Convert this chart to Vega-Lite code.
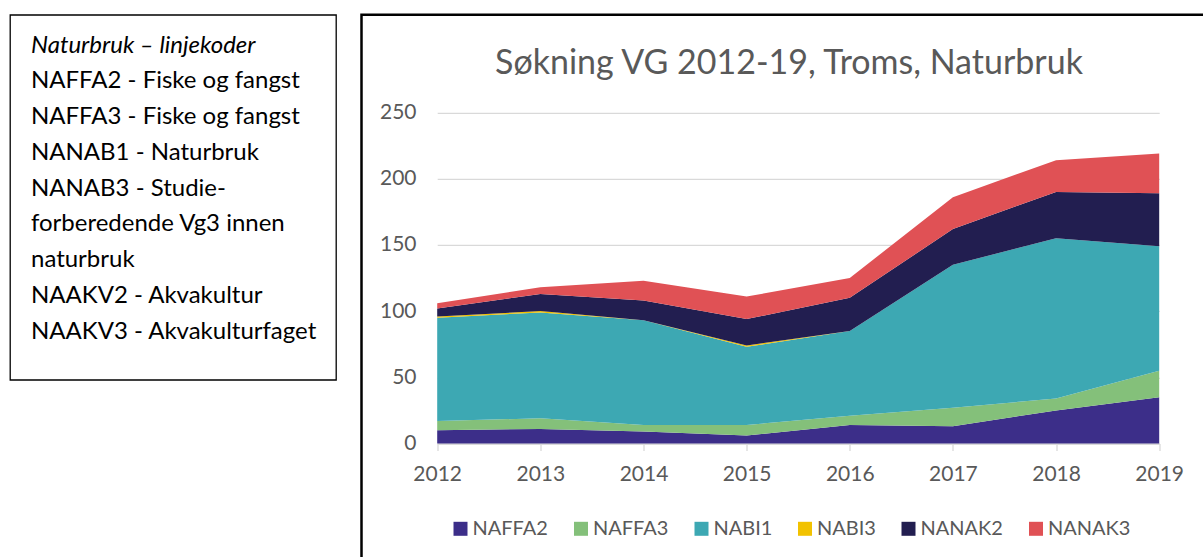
{
  "$schema": "https://vega.github.io/schema/vega-lite/v6.json",
  "padding": {"left": 9, "top": 12.8, "right": 0, "bottom": 0},
  "spacing": 22.5,
  "background": "white",
  "config": {
    "font": "Lato",
    "view": {"stroke": "#000"}
  },
  "resolve": {"scale": {"color": "independent"}, "legend": {"color": "independent"}},
  "datasets": {
    "notes": [
      {"line": 0, "text": "Naturbruk – linjekoder"},
      {"line": 1, "text": "NAFFA2 - Fiske og fangst"},
      {"line": 2, "text": "NAFFA3 - Fiske og fangst"},
      {"line": 3, "text": "NANAB1 - Naturbruk"},
      {"line": 4, "text": "NANAB3 - Studie-"},
      {"line": 5, "text": "forberedende Vg3 innen"},
      {"line": 6, "text": "naturbruk"},
      {"line": 7, "text": "NAAKV2 - Akvakultur"},
      {"line": 8, "text": "NAAKV3 - Akvakulturfaget"}
    ],
    "series": [
      {"year": 2012, "code": "NAFFA2", "k": 1, "value": 10},
      {"year": 2012, "code": "NAFFA3", "k": 2, "value": 7},
      {"year": 2012, "code": "NABI1", "k": 3, "value": 78},
      {"year": 2012, "code": "NABI3", "k": 4, "value": 1},
      {"year": 2012, "code": "NANAK2", "k": 5, "value": 6},
      {"year": 2012, "code": "NANAK3", "k": 6, "value": 4},
      {"year": 2013, "code": "NAFFA2", "k": 1, "value": 11},
      {"year": 2013, "code": "NAFFA3", "k": 2, "value": 8},
      {"year": 2013, "code": "NABI1", "k": 3, "value": 80},
      {"year": 2013, "code": "NABI3", "k": 4, "value": 1},
      {"year": 2013, "code": "NANAK2", "k": 5, "value": 13},
      {"year": 2013, "code": "NANAK3", "k": 6, "value": 5},
      {"year": 2014, "code": "NAFFA2", "k": 1, "value": 9},
      {"year": 2014, "code": "NAFFA3", "k": 2, "value": 5},
      {"year": 2014, "code": "NABI1", "k": 3, "value": 79},
      {"year": 2014, "code": "NABI3", "k": 4, "value": 0},
      {"year": 2014, "code": "NANAK2", "k": 5, "value": 15},
      {"year": 2014, "code": "NANAK3", "k": 6, "value": 15},
      {"year": 2015, "code": "NAFFA2", "k": 1, "value": 6},
      {"year": 2015, "code": "NAFFA3", "k": 2, "value": 8},
      {"year": 2015, "code": "NABI1", "k": 3, "value": 59},
      {"year": 2015, "code": "NABI3", "k": 4, "value": 1},
      {"year": 2015, "code": "NANAK2", "k": 5, "value": 20},
      {"year": 2015, "code": "NANAK3", "k": 6, "value": 17},
      {"year": 2016, "code": "NAFFA2", "k": 1, "value": 14},
      {"year": 2016, "code": "NAFFA3", "k": 2, "value": 7},
      {"year": 2016, "code": "NABI1", "k": 3, "value": 64},
      {"year": 2016, "code": "NABI3", "k": 4, "value": 0},
      {"year": 2016, "code": "NANAK2", "k": 5, "value": 25},
      {"year": 2016, "code": "NANAK3", "k": 6, "value": 15},
      {"year": 2017, "code": "NAFFA2", "k": 1, "value": 13},
      {"year": 2017, "code": "NAFFA3", "k": 2, "value": 14},
      {"year": 2017, "code": "NABI1", "k": 3, "value": 108},
      {"year": 2017, "code": "NABI3", "k": 4, "value": 0},
      {"year": 2017, "code": "NANAK2", "k": 5, "value": 27},
      {"year": 2017, "code": "NANAK3", "k": 6, "value": 24},
      {"year": 2018, "code": "NAFFA2", "k": 1, "value": 25},
      {"year": 2018, "code": "NAFFA3", "k": 2, "value": 9},
      {"year": 2018, "code": "NABI1", "k": 3, "value": 121},
      {"year": 2018, "code": "NABI3", "k": 4, "value": 0},
      {"year": 2018, "code": "NANAK2", "k": 5, "value": 35},
      {"year": 2018, "code": "NANAK3", "k": 6, "value": 24},
      {"year": 2019, "code": "NAFFA2", "k": 1, "value": 35},
      {"year": 2019, "code": "NAFFA3", "k": 2, "value": 20},
      {"year": 2019, "code": "NABI1", "k": 3, "value": 94},
      {"year": 2019, "code": "NABI3", "k": 4, "value": 0},
      {"year": 2019, "code": "NANAK2", "k": 5, "value": 40},
      {"year": 2019, "code": "NANAK3", "k": 6, "value": 30}
    ]
  },
  "hconcat": [
    {
      "width": 326,
      "height": 365,
      "view": {"stroke": "#000", "strokeWidth": 1.3},
      "data": {"name": "notes"},
      "encoding": {
        "x": {"datum": 0, "type": "quantitative", "scale": {"domain": [0, 1], "range": [21, 300]}, "axis": null},
        "y": {"field": "line", "type": "quantitative", "scale": {"domain": [0, 8], "range": [37.9, 323.9], "nice": false, "zero": false}, "axis": null},
        "text": {"field": "text"}
      },
      "layer": [
        {
          "transform": [{"filter": "datum.line == 0"}],
          "mark": {"type": "text", "align": "left", "baseline": "alphabetic", "font": "Lato", "fontSize": 24, "fontStyle": "italic", "color": "#000"}
        },
        {
          "transform": [{"filter": "datum.line > 0"}],
          "mark": {"type": "text", "align": "left", "baseline": "alphabetic", "font": "Lato", "fontSize": 24, "color": "#000"}
        }
      ]
    },
    {
      "width": 855,
      "height": 548,
      "view": {"stroke": "#000", "strokeWidth": 2.5},
      "title": {
        "text": "Søkning VG 2012-19, Troms, Naturbruk",
        "font": "Lato",
        "fontSize": 34,
        "fontWeight": "normal",
        "color": "#595959",
        "anchor": "middle",
        "frame": "group",
        "offset": -66
      },
      "data": {"name": "series"},
      "mark": {"type": "area", "interpolate": "linear", "opacity": 1},
      "encoding": {
        "x": {
          "field": "year",
          "type": "quantitative",
          "scale": {"domain": [2012, 2019], "range": [75.7, 797.7], "nice": false, "zero": false},
          "axis": {
            "title": null,
            "values": [2012, 2013, 2014, 2015, 2016, 2017, 2018, 2019],
            "format": "d",
            "grid": false,
            "offset": -119.3,
            "domainColor": "#d9d9d9",
            "domainWidth": 1.3,
            "tickColor": "#d9d9d9",
            "tickWidth": 1.3,
            "tickSize": 7,
            "labelFont": "Lato",
            "labelFontSize": 21,
            "labelColor": "#595959",
            "labelPadding": 13,
            "labelFlush": false
          }
        },
        "y": {
          "field": "value",
          "type": "quantitative",
          "stack": "zero",
          "scale": {"domain": [0, 250], "range": [428.7, 97.7], "nice": false, "zero": true},
          "axis": {
            "title": null,
            "values": [0, 50, 100, 150, 200, 250],
            "domain": false,
            "ticks": false,
            "tickSize": 0,
            "grid": true,
            "gridColor": "#d9d9d9",
            "gridWidth": 1.3,
            "labelFont": "Lato",
            "labelFontSize": 21,
            "labelColor": "#595959",
            "labelPadding": -54.5
          }
        },
        "order": {"field": "k", "type": "quantitative", "sort": "ascending"},
        "color": {
          "field": "code",
          "type": "nominal",
          "sort": ["NAFFA2", "NAFFA3", "NABI1", "NABI3", "NANAK2", "NANAK3"],
          "scale": {
            "domain": ["NAFFA2", "NAFFA3", "NABI1", "NABI3", "NANAK2", "NANAK3"],
            "range": ["#3C2E89", "#84C07A", "#3DA8B3", "#F2C200", "#221E50", "#E05155"]
          },
          "legend": {
            "title": null,
            "orient": "none",
            "legendX": 89,
            "legendY": 504,
            "direction": "horizontal",
            "symbolType": "square",
            "symbolSize": 196,
            "symbolStrokeWidth": 0,
            "symbolOpacity": 1,
            "labelFont": "Lato",
            "labelFontSize": 20,
            "labelColor": "#595959",
            "labelOffset": 2,
            "columnPadding": 22.5
          }
        }
      }
    }
  ]
}
